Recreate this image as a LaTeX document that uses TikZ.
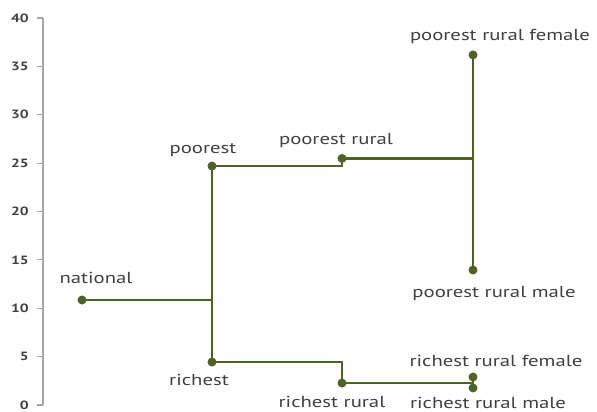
\documentclass[tikz,border=0pt]{standalone}
\usepackage{fontspec}
\setmainfont{PT Sans}[FakeStretch=1.3]
\usetikzlibrary{calc}
\definecolor{olive}{RGB}{79,98,40}
\definecolor{txtgray}{RGB}{64,64,64}
\definecolor{axgray}{RGB}{166,166,166}
\tikzset{pt/.style={circle,fill=olive,inner sep=0pt,minimum size=9bp},
  branch/.style={olive,line width=2.8bp},
  every label/.style={text=txtgray,font=\fontsize{16}{18}\selectfont,inner sep=1bp}}
\begin{document}
\begin{tikzpicture}[x=1bp,y=9.675bp]
\useasboundingbox (0,-0.7235) rectangle (597,41.86);
% axis
\draw[axgray,line width=1.2bp] (43,0)--(43,40);
\foreach \v in {0,5,...,40} {\draw[axgray,line width=1.2bp] (37,\v)--(43,\v);
  \node[anchor=east,text=txtgray,font=\bfseries\fontsize{12}{14}\selectfont,inner sep=0pt] (t\v) at (29,\v) {\v};}
% points
\node[pt,label={[xshift=14bp,yshift=10bp]above:national}] (nat) at (82,10.85) {};
\node[pt,label={[xshift=-9bp,yshift=3bp]above:poorest}] (poor) at (212,24.7) {};
\node[pt,label={[xshift=-13bp,yshift=-6bp]below:richest}] (rich) at (212,4.44) {};
\node[pt,label={[xshift=-6bp,yshift=5bp]above:poorest rural}] (poorR) at (342,25.48) {};
\node[pt,label={[xshift=-10bp,yshift=-7bp]below:richest rural}] (richR) at (342,2.27) {};
\node[pt,label={[xshift=27bp,yshift=5bp]above:poorest rural female}] (poorRF) at (473,36.18) {};
\node[pt,label={[xshift=21bp,yshift=-10bp]below:poorest rural male}] (poorRM) at (473,13.95) {};
\node[pt,label={[xshift=23bp,yshift=4bp]above:richest rural female}] (richRF) at (473,2.89) {};
\node[pt,label={[xshift=15bp,yshift=-3bp]below:richest rural male}] (richRM) at (473,1.76) {};
% branches
\coordinate (jN) at (poor.center |- nat.center); \coordinate (jPR) at (poorRF.center |- poorR.center); \coordinate (jRR) at (richRF.center |- richR.center);
\draw[branch] (nat.center)--(jN); \draw[branch] (poor.center)--(rich.center);
\draw[branch] (poor.center) -| (poorR.center); \draw[branch] (rich.center) -| (richR.center);
\draw[branch] (poorR.center)--(jPR); \draw[branch] (poorRF.center)--(poorRM.center);
\draw[branch] (richR.center)--(jRR); \draw[branch] (richRF.center)--(richRM.center);
\end{tikzpicture}
\end{document}
